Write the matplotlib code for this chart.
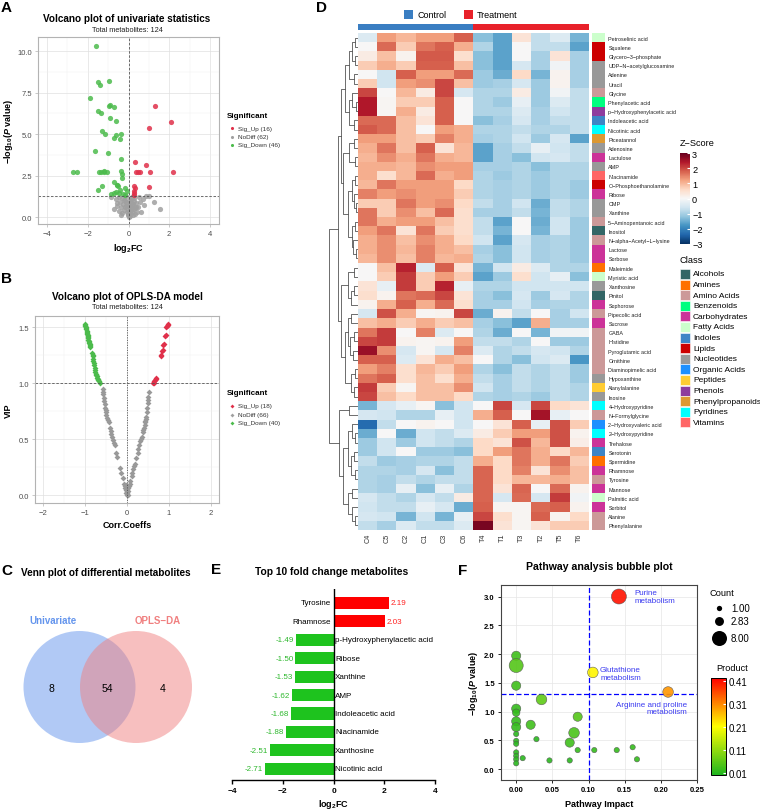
import numpy as np
import matplotlib
matplotlib.use("Agg")
import matplotlib.pyplot as plt
from matplotlib.colors import LinearSegmentedColormap, Normalize, to_rgb
from matplotlib.cm import ScalarMappable
from matplotlib.patches import Circle, Rectangle
from matplotlib.ticker import MultipleLocator

plt.rcParams['font.family'] = ['Liberation Sans', 'DejaVu Sans']
plt.rcParams['mathtext.fontset'] = 'custom'
plt.rcParams['mathtext.rm'] = 'Liberation Sans:bold'
plt.rcParams['mathtext.it'] = 'Liberation Sans:italic:bold'
plt.rcParams['mathtext.bf'] = 'Liberation Sans:bold'

# ---------------- data ----------------
# A: univariate volcano (log2FC, -log10 p)
up_fc = [1.32, 2.07, 1.03, 0.34, 0.86, 0.39, 0.47, 0.55, 1.08, 2.19, 0.26, 1.00, 0.27, 0.28, 0.29, 0.30]
up_p = [6.72, 5.72, 5.38, 3.30, 3.14, 2.72, 2.72, 2.72, 2.72, 2.72, 1.88, 1.85, 1.60, 1.45, 1.32, 1.75]
down_fc = [-1.60, -1.49, -0.95, -1.38, -1.88, -1.51, -1.35, -0.97, -0.89, -0.71, -0.90, -0.61, -1.29,
           -1.18, -0.61, -0.69, -0.39, -0.42, -1.67, -1.00, -0.38, -2.71, -2.51, -1.46, -1.35, -1.22,
           -1.05, -1.20, -0.36, -0.31, -0.33, -1.30, -0.70, -0.55, -0.50, -0.58, -1.49, -0.19, -0.07,
           -0.70, -0.45, -0.25, -0.62, -0.15, -0.85, -0.40]
down_p = [10.32, 8.16, 8.22, 7.94, 7.20, 6.42, 6.30, 6.70, 6.76, 6.64, 6.00, 5.78, 5.22, 5.02, 4.94,
          4.76, 5.02, 4.70, 4.00, 3.86, 3.52, 2.72, 2.72, 2.72, 2.72, 2.78, 2.72, 2.74, 2.78, 2.58,
          2.36, 1.88, 2.10, 1.95, 1.90, 1.92, 1.66, 1.75, 1.60, 1.45, 1.45, 1.40, 1.55, 1.35, 1.38, 1.62]
gray_fc = [-0.85, -0.62, -0.55, -0.48, -0.40, -0.35, -0.30, -0.25, -0.20, -0.15, -0.12, -0.08, -0.05,
           -0.02, 0.00, 0.03, 0.05, 0.08, 0.10, 0.12, 0.15, 0.18, 0.20, 0.25, 0.28, 0.32, 0.38, 0.45,
           0.52, 0.60, 0.70, 0.88, 1.00, 1.24, 1.57, -0.70, -0.45, -0.30, -0.18, -0.10, -0.04, 0.02,
           0.06, 0.12, 0.16, 0.22, 0.30, 0.40, 0.55, 0.75, -0.58, -0.22, -0.08, 0.00, 0.05, 0.09, 0.14,
           0.20, 0.35, -0.35, -0.12, 0.25]
gray_p = [1.20, 1.10, 0.85, 1.25, 0.95, 0.60, 1.15, 0.80, 0.45, 1.05, 0.70, 0.30, 0.55, 0.15, 0.05,
          0.40, 0.90, 0.25, 0.65, 1.18, 0.35, 0.75, 1.28, 0.50, 1.00, 0.20, 0.85, 0.60, 1.22, 0.35,
          1.10, 1.28, 1.30, 0.92, 0.48, 0.50, 0.40, 0.25, 0.60, 0.95, 0.20, 0.70, 0.10, 0.45, 1.25,
          0.80, 0.55, 0.30, 0.95, 0.75, 0.70, 1.05, 0.85, 0.35, 1.12, 0.55, 0.90, 0.12, 0.65, 0.15,
          1.28, 1.15]

# B: OPLS-DA volcano (corr coeff, VIP)
b_up_corr = [0.98, 0.97, 0.95, 0.94, 0.92, 0.91, 0.87, 0.86, 0.85, 0.84, 0.81, 0.80, 0.69, 0.68, 0.66, 0.65, 0.64, 0.63]
b_up_vip = [1.53, 1.52, 1.51, 1.50, 1.43, 1.42, 1.35, 1.34, 1.30, 1.29, 1.25, 1.24, 1.05, 1.04, 1.03, 1.02, 1.00, 1.00]
b_down_corr = [-1.00, -0.99, -0.99, -0.98, -0.97, -0.97, -0.96, -0.96, -0.95, -0.95, -0.94, -0.93, -0.93,
               -0.92, -0.92, -0.91, -0.90, -0.90, -0.89, -0.89, -0.88, -0.88,
               -0.83, -0.82, -0.81, -0.81, -0.80, -0.79, -0.78, -0.77, -0.76, -0.75, -0.74, -0.73,
               -0.72, -0.71, -0.70, -0.68, -0.66, -0.64]
b_down_vip = [1.53, 1.52, 1.51, 1.50, 1.49, 1.48, 1.47, 1.46, 1.45, 1.44, 1.43, 1.42, 1.41, 1.40, 1.39,
              1.38, 1.37, 1.36, 1.35, 1.34, 1.33, 1.32,
              1.27, 1.25, 1.24, 1.22, 1.20, 1.18, 1.16, 1.14, 1.12, 1.10, 1.08, 1.07, 1.06, 1.05,
              1.04, 1.03, 1.02, 1.00]
b_gray_corr = [-0.58, -0.57, -0.56, -0.55, -0.54, -0.53, -0.52, -0.51, -0.50, -0.49, -0.48, -0.46, -0.44,
               -0.41, -0.39, -0.37, -0.35, -0.33, -0.31, -0.29, -0.25, -0.23, -0.17, -0.14, -0.10, -0.07,
               -0.05, -0.04, -0.03, -0.02, -0.01, 0.00, -0.02,
               0.01, 0.02, 0.03, 0.05, 0.06, 0.08, 0.11, 0.13, 0.15, 0.17, 0.19, 0.22, 0.25, 0.27, 0.29,
               0.31, 0.33, 0.35, 0.37, 0.39, 0.40, 0.42, 0.43, 0.44, 0.45, 0.46, 0.47, 0.48, 0.49, 0.50,
               0.51, 0.52, 0.03]
b_gray_vip = [0.95, 0.92, 0.90, 0.87, 0.84, 0.81, 0.78, 0.76, 0.74, 0.72, 0.69, 0.67, 0.65, 0.60, 0.57,
              0.55, 0.52, 0.49, 0.47, 0.45, 0.38, 0.34, 0.24, 0.20, 0.15, 0.10, 0.08, 0.06, 0.09, 0.05,
              0.03, 0.00, 0.02,
              0.02, 0.04, 0.06, 0.08, 0.10, 0.13, 0.17, 0.20, 0.23, 0.26, 0.28, 0.33, 0.38, 0.41, 0.45,
              0.48, 0.50, 0.52, 0.56, 0.58, 0.60, 0.63, 0.65, 0.66, 0.68, 0.70, 0.74, 0.78, 0.82, 0.85,
              0.88, 0.92, 0.00]

# C: Venn counts (only univariate, both, only OPLS-DA)
venn_sets = ["Univariate", "OPLS−DA"]
venn_counts = [8, 54, 4]

# D: heatmap
heat_cols = ["C4", "C5", "C2", "C1", "C3", "C6", "T4", "T1", "T3", "T2", "T5", "T6"]
heat_groups = ["Control"] * 6 + ["Treatment"] * 6
heat_rows = ["Petroselinic acid", "Squalene", "Glycero−3−phosphate", "UDP−N−acetylglucosamine", "Adenine",
             "Uracil", "Glycine", "Phenylacetic acid", "p−Hydroxyphenylacetic acid", "Indoleacetic acid",
             "Nicotinic acid", "Piceatannol", "Adenosine", "Lactulose", "AMP", "Niacinamide",
             "O−Phosphoethanolamine", "Ribose", "CMP", "Xanthine", "5−Aminopentanoic acid", "Inositol",
             "N−alpha−Acetyl−L−lysine", "Lactose", "Sorbose", "Maleimide", "Myristic acid", "Xanthosine",
             "Pinitol", "Sophorose", "Pipecolic acid", "Sucrose", "GABA", "Histidine", "Pyroglutamic acid",
             "Ornithine", "Diaminopimelic acid", "Hypoxanthine", "Alanylalanine", "Inosine",
             "4−Hydroxypyridine", "N−Formylglycine", "2−Hydroxyvaleric acid", "2−Hydroxypyridine",
             "Trehalose", "Serotonin", "Spermidine", "Rhamnose", "Tyrosine", "Mannose", "Palmitic acid",
             "Sorbitol", "Alanine", "Phenylalanine"]
row_class = ["Fatty Acids", "Lipids", "Lipids", "Nucleotides", "Nucleotides", "Nucleotides", "Amino Acids",
             "Benzenoids", "Phenols", "Indoles", "Pyridines", "Phenylpropanoids", "Nucleotides",
             "Carbohydrates", "Nucleotides", "Vitamins", "Lipids", "Carbohydrates", "Nucleotides",
             "Nucleotides", "Amino Acids", "Alcohols", "Amino Acids", "Carbohydrates", "Carbohydrates",
             "Amines", "Fatty Acids", "Nucleotides", "Alcohols", "Carbohydrates", "Amino Acids",
             "Carbohydrates", "Amino Acids", "Amino Acids", "Amino Acids", "Amino Acids", "Amino Acids",
             "Nucleotides", "Peptides", "Nucleotides", "Pyridines", "Amino Acids", "Organic Acids",
             "Pyridines", "Carbohydrates", "Indoles", "Amines", "Carbohydrates", "Amino Acids",
             "Carbohydrates", "Fatty Acids", "Carbohydrates", "Amino Acids", "Amino Acids"]
class_names = ["Alcohols", "Amines", "Amino Acids", "Benzenoids", "Carbohydrates", "Fatty Acids", "Indoles",
               "Lipids", "Nucleotides", "Organic Acids", "Peptides", "Phenols", "Phenylpropanoids",
               "Pyridines", "Vitamins"]
class_colors = ["#336666", "#FF7000", "#CC9999", "#00FF80", "#CC3399", "#CCFFCC", "#3D85C6", "#CC0000",
                "#999999", "#1E90FF", "#FFCC33", "#8E3C9E", "#DD9933", "#00FFFF", "#FF6666"]
zscore = np.array([
    [-0.4, 1.25, 1.0, 1.25, 1.25, 1.8, -1.25, -1.6, 0.4, -0.75, -0.4, -1.4],
    [0.0, 1.7, 0.75, 1.6, 1.8, 1.1, -0.9, -1.6, 0.0, -0.75, -0.75, -1.6],
    [0.25, 0.9, 0.1, 1.85, 1.85, 0.5, -1.25, -1.6, 0.0, -1.0, 0.4, -1.0],
    [0.75, 1.1, 0.75, 1.8, 1.8, 0.9, -1.25, -1.6, -0.5, -1.0, -0.1, -1.0],
    [0.0, -0.6, 1.8, 1.25, 1.25, 1.7, -1.1, -1.5, 0.6, -1.4, 0.1, -1.0],
    [0.75, -0.6, 1.25, 1.4, 2.0, 0.9, -1.1, -1.0, -0.5, -1.1, 0.1, -1.0],
    [2.0, 0.0, 1.0, 0.25, 2.0, -0.5, -0.9, -0.9, 0.25, -1.1, -0.1, -0.75],
    [2.4, 0.05, 0.75, 0.75, 1.8, 0.0, -0.9, -1.1, -0.25, -1.1, -0.4, -0.75],
    [2.4, 0.05, 1.1, 0.25, 1.8, 0.0, -0.9, -0.9, -0.4, -1.0, -0.6, -0.75],
    [1.7, 1.7, 0.9, 0.4, 1.8, 0.0, -1.25, -1.0, -0.5, -1.0, -0.75, -0.75],
    [1.85, 1.7, 0.9, 0.0, 1.25, 1.1, -0.9, -0.9, -0.75, -0.9, -0.9, -0.75],
    [1.25, 1.25, 0.9, 0.75, 1.5, 1.1, -1.0, -0.9, -0.6, -1.1, -0.5, -1.6],
    [1.1, 1.6, 0.9, 1.8, 0.4, 1.0, -1.6, -1.0, -0.75, -0.25, -0.6, -0.75],
    [1.0, 1.4, 1.1, 1.6, 1.1, 1.0, -1.6, -1.0, -1.25, -0.6, -0.5, -0.75],
    [1.1, 1.1, 1.0, 1.4, 1.25, 1.25, -1.0, -1.0, -0.9, -1.25, -0.9, -0.9],
    [1.1, 0.5, 1.0, 1.7, 1.1, 1.25, -0.9, -1.1, -0.9, -1.1, -0.9, -0.9],
    [1.0, 1.6, 1.25, 1.25, 1.25, 0.6, -0.9, -1.0, -0.9, -1.1, -0.9, -1.1],
    [1.5, 1.25, 1.4, 1.25, 1.25, 0.75, -0.9, -1.0, -0.9, -1.1, -0.9, -1.1],
    [0.75, 0.75, 1.6, 1.25, 1.4, 0.6, -0.75, -1.0, -0.6, -1.5, -0.75, -0.9],
    [1.6, 0.75, 1.4, 0.9, 1.7, 0.5, -1.0, -1.0, -0.75, -1.4, -0.75, -0.9],
    [1.6, 1.1, 1.25, 1.25, 0.9, 0.5, -0.75, -1.6, 0.0, -1.5, -0.6, -1.1],
    [1.25, 1.6, 0.4, 1.6, 0.75, 0.5, -0.75, -1.4, 0.0, -1.4, -0.6, -1.1],
    [1.1, 1.4, 0.9, 1.4, 1.1, 0.6, -0.6, -1.6, -0.5, -1.0, -0.9, -1.1],
    [1.1, 1.4, 1.0, 1.5, 1.1, 0.9, -1.0, -1.25, -0.6, -1.0, -0.9, -1.1],
    [1.0, 1.4, 0.9, 1.5, 1.0, 1.1, -0.9, -1.25, -0.6, -1.0, -0.9, -1.1],
    [0.0, 0.9, 2.3, -0.4, 1.8, 0.4, -1.4, -0.6, 0.25, -0.4, -0.9, -0.9],
    [0.0, 0.75, 2.1, 0.75, 1.25, 0.75, -1.6, -1.1, 0.5, -0.6, -0.25, -1.25],
    [0.4, -0.25, 2.1, 0.75, 2.3, -0.25, -0.9, -0.9, -0.6, -0.6, -0.6, -0.6],
    [0.5, 0.1, 1.6, 1.7, 2.0, 0.4, -1.0, -1.25, -0.5, -1.1, -0.5, -0.9],
    [0.1, 1.1, 1.8, 1.1, 1.7, 0.5, -1.0, -1.0, -0.6, -1.0, -0.9, -0.9],
    [-0.5, 1.9, 1.1, 0.05, 0.1, 2.0, -1.5, 0.1, -0.75, 0.0, -1.0, -0.6],
    [0.9, 1.1, 0.75, 1.1, 0.75, 0.9, -1.0, -1.25, -1.6, 1.1, -1.0, -1.0],
    [1.6, 2.1, 0.0, 1.5, -0.4, 0.0, -0.9, -1.5, 0.0, -1.4, -0.1, -0.1],
    [2.0, 2.1, 0.1, 0.05, 0.1, 1.25, -0.75, -0.75, -0.9, 0.0, -1.1, -1.1],
    [2.6, 1.4, -0.5, 0.05, -0.5, 1.5, -0.4, -0.9, -0.75, -0.5, -0.6, -0.9],
    [1.8, 1.8, -0.4, 0.4, 1.1, 0.9, 0.0, -0.9, -1.25, -0.6, -0.4, -1.75],
    [1.25, 1.5, 0.5, 1.0, 0.75, 1.25, -0.9, -1.25, -0.75, -0.9, -0.75, -1.1],
    [1.6, 1.8, 0.5, 0.9, 0.5, 1.1, -0.75, -1.0, -0.75, -0.9, -0.75, -1.1],
    [2.1, 0.75, 0.05, 0.9, 0.9, 1.4, -0.6, -1.0, -0.75, -0.9, -0.75, -0.9],
    [2.0, 0.9, 0.6, 0.9, 0.9, 0.6, -0.9, -1.0, -0.9, -1.1, -0.75, -0.9],
    [-1.4, -0.5, -0.25, 0.05, -1.25, -0.6, 0.0, 2.0, -0.5, 2.0, 0.6, 0.4],
    [-0.5, -0.6, -0.9, -0.9, -0.25, -0.6, 1.1, 1.8, 0.0, 2.5, -0.25, 0.0],
    [-2.3, -0.75, 0.0, 0.1, 0.0, -0.6, 0.0, 0.4, 1.8, -0.25, 1.9, 0.75],
    [-1.5, 0.0, -1.5, -0.6, -0.75, -0.4, 0.25, 0.75, 1.25, 1.25, 1.9, 0.1],
    [-1.1, -0.6, -1.1, -0.6, -0.75, -0.9, 0.6, 0.4, 1.9, 1.0, 1.9, 0.2],
    [-1.1, -0.6, 0.0, -1.1, -1.1, -1.25, 0.6, 1.25, 1.6, 1.1, 0.6, 1.0],
    [-0.75, -1.1, -1.0, -0.9, -0.9, -0.75, 1.1, 0.6, 1.6, 1.1, 1.6, 0.75],
    [-0.9, -0.9, -1.0, -0.5, -1.25, -0.75, 1.75, 0.6, 1.5, 0.4, 1.4, 0.9],
    [-0.9, -1.0, -0.75, -0.9, -0.75, -0.75, 1.75, 0.6, 1.0, 1.0, 1.1, 0.9],
    [-0.9, -1.0, -0.25, -1.25, -0.25, -0.9, 1.75, 0.4, 1.75, 0.0, 1.7, 0.1],
    [-0.5, -0.75, -0.9, -0.5, -0.75, 0.25, 1.75, -0.5, 1.7, -0.5, 2.1, -0.1],
    [-0.6, -0.75, -0.75, -0.25, -0.5, -1.5, 1.8, 0.05, 0.05, 1.7, 1.8, 0.1],
    [-0.5, -0.6, -1.4, -0.6, -1.4, -0.25, 2.0, 0.5, 0.05, 1.8, 0.1, 0.6],
    [-0.75, -1.0, -0.4, -0.75, -0.75, -0.4, 2.85, 0.4, 0.05, 0.4, 0.75, 0.75],
])
# row dendrogram: [height, left, right], leaves are row indices
row_tree = [10,
            [7,
             [6,
              [4.5,
               [3, [2, [1, 0, 1], [1.2, 2, 3]], [1.5, 4, 5]],
               [3.2, [2, 6, [0.8, 7, 8]], [1.5, 9, 10]]],
              [5,
               [3, [1.5, 11, 12], [1.2, 13, 14]],
               [3.5, [2, [1, 15, 16], [1.5, 17, [0.8, 18, 19]]],
                [2.2, [1.2, 20, 21], [1.8, 22, [0.8, 23, 24]]]]]],
             [6,
              [3.5, [1.5, 25, 26], [2.5, [1.5, 27, 28], 29]],
              [4.5,
               [3.5, [2.5, 30, 31], [2.8, [1.5, 32, 33], [1.8, 34, 35]]],
               [2.5, [1.2, 36, 37], [1.5, 38, 39]]]]],
            [6.5,
             [3, 40, 41],
             [5,
              [3.5, [2, 42, [1.2, 43, 44]], [2.5, [1.5, 45, 46], [1.2, 47, 48]]],
              [3.5, [2, 49, 50], [2.2, 51, [1.2, 52, 53]]]]]]

# E: top 10 fold change
top_names = ["Tyrosine", "Rhamnose", "p-Hydroxyphenylacetic acid", "Ribose", "Xanthine", "AMP",
             "Indoleacetic acid", "Niacinamide", "Xanthosine", "Nicotinic acid"]
top_fc = [2.19, 2.03, -1.49, -1.50, -1.53, -1.62, -1.68, -1.88, -2.51, -2.71]

# F: pathway bubble plot
pw_impact = [0.142, 0.106, 0.210, 0.0, 0.0, 0.0, 0.035, 0.0, 0.0, 0.0, 0.085, 0.020, 0.0, 0.080, 0.0,
             0.028, 0.074, 0.0, 0.0, 0.085, 0.108, 0.139, 0.161, 0.167, 0.046, 0.074, 0.009, 0.0, 0.0,
             0.0, 0.0]
pw_logp = [3.00, 1.68, 1.34, 1.97, 1.80, 1.45, 1.21, 1.05, 0.98, 0.83, 0.91, 0.77, 0.73, 0.63, 0.61,
           0.52, 0.46, 0.49, 0.44, 0.33, 0.33, 0.33, 0.38, 0.17, 0.15, 0.15, 0.19, 0.29, 0.23, 0.17, 0.10]
pw_count = [8, 4, 4, 3, 7, 3, 4, 3, 2, 3, 3, 3, 3, 4, 1, 1, 3, 1, 1, 1, 1, 1, 1, 1, 1, 1, 1, 1, 1, 1, 1]
pw_product = [0.41, 0.22, 0.30, 0.03, 0.05, 0.03, 0.06, 0.02, 0.02, 0.02, 0.05, 0.03, 0.02, 0.04, 0.01,
              0.01, 0.03, 0.01, 0.01, 0.02, 0.02, 0.02, 0.02, 0.02, 0.01, 0.01, 0.01, 0.01, 0.01, 0.01,
              0.01]
pw_labels = {0: "Purine\nmetabolism", 1: "Glutathione\nmetabolism", 2: "Arginine and proline\nmetabolism"}
count_legend = [1.00, 2.83, 8.00]

# ---------------- layout ----------------
W, H = 760, 812
fig = plt.figure(figsize=(W / 100, H / 100), dpi=100)


def box(l, t, r, b):
    return [l / W, 1 - b / H, (r - l) / W, (b - t) / H]


RED, GRAY, GREEN = "#E0304A", "#A0A0A0", "#4CBB4C"


def light_theme(ax):
    for s in ax.spines.values():
        s.set_color("#B3B3B3")
        s.set_linewidth(0.8)
    ax.tick_params(which="major", length=2.5, width=0.5, color="#B3B3B3", labelcolor="#4D4D4D",
                   labelsize=5.5, pad=1.5)
    ax.tick_params(which="minor", length=0)
    ax.grid(which="major", color="#E0E0E0", lw=0.5)
    ax.grid(which="minor", color="#EEEEEE", lw=0.3)
    ax.set_axisbelow(True)


# A
axA = fig.add_axes(box(38, 38, 219, 225))
axA.scatter(gray_fc, gray_p, s=14, c=GRAY, alpha=0.85, lw=0)
axA.scatter(up_fc, up_p, s=14, c=RED, alpha=0.85, lw=0)
axA.scatter(down_fc, down_p, s=14, c=GREEN, alpha=0.85, lw=0)
axA.axhline(1.3, color="#555555", lw=0.6, dashes=(3, 2))
axA.axvline(0, color="#555555", lw=0.6, dashes=(3, 2))
axA.set_xlim(-4.45, 4.45)
axA.set_ylim(-0.4, 10.85)
axA.set_xticks([-4, -2, 0, 2, 4])
axA.set_yticks([0, 2.5, 5, 7.5, 10])
axA.yaxis.set_major_formatter("{x:.1f}")
axA.xaxis.set_minor_locator(MultipleLocator(1))
axA.yaxis.set_minor_locator(MultipleLocator(1.25))
light_theme(axA)
axA.set_xlabel(r"$\mathrm{log_{2}FC}$", fontsize=6.5, labelpad=3)
axA.set_ylabel(r"$\mathrm{-log_{10}(}P\mathrm{\ value)}$", fontsize=6.5, labelpad=2)

# B
axB = fig.add_axes(box(35, 317, 219, 504))
axB.scatter(b_gray_corr, b_gray_vip, s=9, marker="D", c="#999999", lw=0)
axB.scatter(b_up_corr, b_up_vip, s=9, marker="D", c=RED, lw=0)
axB.scatter(b_down_corr, b_down_vip, s=9, marker="D", c=GREEN, lw=0)
axB.axhline(1.0, color="#555555", lw=0.6, dashes=(3, 2))
axB.axvline(0, color="#555555", lw=0.6, dashes=(1.5, 1.5))
axB.set_xlim(-2.19, 2.19)
axB.set_ylim(-0.07, 1.6)
axB.set_xticks([-2, -1, 0, 1, 2])
axB.set_yticks([0, 0.5, 1.0, 1.5])
axB.yaxis.set_major_formatter("{x:.1f}")
axB.xaxis.set_minor_locator(MultipleLocator(0.5))
axB.yaxis.set_minor_locator(MultipleLocator(0.25))
light_theme(axB)
axB.set_xlabel("Corr.Coeffs", fontsize=6.5, fontweight="bold", labelpad=3)
axB.set_ylabel("VIP", fontsize=6.5, fontweight="bold", labelpad=4)

# D heatmap
axH = fig.add_axes(box(358, 34, 589, 531))
axH.imshow(zscore, aspect="auto", cmap="RdBu_r", vmin=-3, vmax=3, interpolation="nearest")
axH.set_xticks(range(len(heat_cols)))
axH.set_xticklabels(heat_cols, rotation=90, fontsize=5.2, color="#333333")
axH.set_yticks([])
axH.tick_params(axis="x", length=0, pad=2)
for s in axH.spines.values():
    s.set_visible(False)

group_cols = {"Control": "#3A7EC2", "Treatment": "#E8212A"}
axG = fig.add_axes(box(358, 25, 589, 31))
axG.imshow([[to_rgb(group_cols[g]) for g in heat_groups]], aspect="auto")
axG.axis("off")

axC = fig.add_axes(box(592, 34, 605, 531))
axC.imshow([[to_rgb(class_colors[class_names.index(c)])] for c in row_class], aspect="auto",
           interpolation="nearest")
axC.set_xticks([])
axC.yaxis.tick_right()
axC.set_yticks(range(len(heat_rows)))
axC.set_yticklabels(heat_rows, fontsize=3.9, color="#222222")
axC.tick_params(axis="y", length=0, pad=2.5)
for s in axC.spines.values():
    s.set_visible(False)

axDen = fig.add_axes(box(328, 34, 358, 531))


def draw_node(ax, node):
    if isinstance(node, int):
        return node, 0.0
    h, left, right = node
    y1, h1 = draw_node(ax, left)
    y2, h2 = draw_node(ax, right)
    ax.plot([h1, h, h, h2], [y1, y1, y2, y2], color="#333333", lw=0.5, solid_capstyle="butt")
    return (y1 + y2) / 2, h


draw_node(axDen, row_tree)
axDen.set_xlim(10.3, 0)
axDen.set_ylim(len(heat_rows) - 0.5, -0.5)
axDen.axis("off")

# Z-score colorbar
axZ = fig.add_axes(box(680, 154, 690, 245))
cbz = fig.colorbar(ScalarMappable(norm=Normalize(-3, 3), cmap="RdBu_r"), cax=axZ, ticks=range(-3, 4))
cbz.outline.set_visible(False)
axZ.tick_params(labelsize=6.6, length=2, color="white", direction="in", pad=1.5)

# E
axE = fig.add_axes(box(232, 590, 435, 781))
ypos = np.arange(len(top_names))[::-1]
bar_cols = ["#FF0000" if v > 0 else "#1EC31E" for v in top_fc]
axE.barh(ypos, top_fc, height=0.65, color=bar_cols)
for y, name, v in zip(ypos, top_names, top_fc):
    if v > 0:
        axE.text(-0.1, y, name, ha="right", va="center", fontsize=5.8)
        axE.text(v + 0.06, y, f"{v:.2f}", ha="left", va="center", fontsize=5.8, color="#FF2020")
    else:
        axE.text(0.06, y, name, ha="left", va="center", fontsize=5.8)
        axE.text(v - 0.08, y, f"{v:.2f}", ha="right", va="center", fontsize=5.8, color="#2DB82D")
axE.axvline(0, color="black", lw=1)
axE.set_xlim(-4, 4)
axE.set_ylim(-0.6, 9.74)
axE.set_xticks([-4, -2, 0, 2, 4])
axE.set_yticks([])
for s in ["left", "top", "right"]:
    axE.spines[s].set_visible(False)
axE.spines["bottom"].set_linewidth(1)
axE.tick_params(axis="x", length=3, width=1, labelsize=6, pad=2)
for lab in axE.get_xticklabels():
    lab.set_fontweight("bold")
axE.set_xlabel(r"$\mathrm{log_{2}FC}$", fontsize=6.5, labelpad=2)

# F
prod_cmap = LinearSegmentedColormap.from_list("prod", ["#1FB51F", "#FFFF00", "#FF0000"])
prod_norm = Normalize(0.0, 0.425)
axF = fig.add_axes(box(501, 586, 697, 781))
axF.scatter(pw_impact, pw_logp, s=np.array(pw_count) * 14.6, c=pw_product, cmap=prod_cmap, norm=prod_norm,
            edgecolors="#555555", linewidths=0.4, alpha=0.9, zorder=3)
axF.axvline(0.1, color="#0000FF", lw=0.9, dashes=(4, 2), zorder=2)
axF.axhline(1.3, color="#0000FF", lw=0.9, dashes=(4, 2), zorder=2)
axF.text(pw_impact[0] + 0.022, pw_logp[0], pw_labels[0], ha="left", va="center", fontsize=5.8,
         color="#3B3BF0", linespacing=1.1)
axF.text(pw_impact[1] + 0.010, pw_logp[1] - 0.02, pw_labels[1], ha="left", va="center", fontsize=5.8,
         color="#3B3BF0", linespacing=1.1)
axF.text(0.237, 1.06, pw_labels[2], ha="right", va="center", fontsize=5.8, color="#3B3BF0",
         multialignment="right", linespacing=1.1)
axF.set_xlim(-0.021, 0.25)
axF.set_ylim(-0.19, 3.2)
axF.set_xticks([0, 0.05, 0.10, 0.15, 0.20, 0.25])
axF.set_yticks([0, 0.5, 1.0, 1.5, 2.0, 2.5, 3.0])
axF.xaxis.set_major_formatter("{x:.2f}")
axF.yaxis.set_major_formatter("{x:.1f}")
for s in axF.spines.values():
    s.set_color("#444444")
    s.set_linewidth(0.8)
axF.grid(color="#E6E6E6", lw=0.5)
axF.set_axisbelow(True)
axF.tick_params(length=2.5, width=0.6, labelsize=5.5, pad=2)
for lab in axF.get_xticklabels() + axF.get_yticklabels():
    lab.set_fontweight("bold")
axF.set_xlabel("Pathway Impact", fontsize=6.5, fontweight="bold", labelpad=4)
axF.set_ylabel(r"$\mathrm{-log_{10}(}P\mathrm{\ value)}$", fontsize=6.5, labelpad=3)

axP = fig.add_axes(box(711, 679, 726, 776))
cbp = fig.colorbar(ScalarMappable(norm=prod_norm, cmap=prod_cmap), cax=axP,
                   ticks=[0.01, 0.11, 0.21, 0.31, 0.41])
cbp.outline.set_linewidth(0.7)
axP.tick_params(labelsize=7, length=2, color="white", direction="in", pad=2)

# ---------------- overlay: titles, legends, Venn ----------------
ov = fig.add_axes([0, 0, 1, 1])
ov.set_xlim(0, W)
ov.set_ylim(H, 0)
ov.axis("off")
ov.patch.set_alpha(0)

for x, y, s in [(1, 8, "A"), (1, 279, "B"), (1, 571, "C"), (316, 8, "D"), (211, 570, "E"), (458, 571, "F")]:
    ov.text(x, y, s, fontsize=11, fontweight="bold", ha="left", va="center")

ov.text(127, 19, "Volcano plot of univariate statistics", fontsize=7.2, fontweight="bold", ha="center", va="center")
ov.text(127, 30, "Total metabolites: 124", fontsize=5.3, ha="center", va="center", color="#222222")
ov.text(127, 297, "Volcano plot of OPLS-DA model", fontsize=7.2, fontweight="bold", ha="center", va="center")
ov.text(127, 308, "Total metabolites: 124", fontsize=5.3, ha="center", va="center", color="#222222")
ov.text(21, 573, "Venn plot of differential metabolites", fontsize=7.2, fontweight="bold", ha="left", va="center")
ov.text(332, 572, "Top 10 fold change metabolites", fontsize=7.4, fontweight="bold", ha="center", va="center")
ov.text(599, 567, "Pathway analysis bubble plot", fontsize=7.6, fontweight="bold", ha="center", va="center")

# significance legends
for (ty, marker, labels) in [(116, "o", [f"Sig_Up ({len(up_fc)})", f"NoDiff ({len(gray_fc)})",
                                          f"Sig_Down ({len(down_fc)})"]),
                             (394, "D", [f"Sig_Up ({len(b_up_corr)})", f"NoDiff ({len(b_gray_corr)})",
                                          f"Sig_Down ({len(b_down_corr)})"])]:
    ov.text(227, ty, "Significant", fontsize=5.8, fontweight="bold", ha="left", va="center")
    for i, (lab, col) in enumerate(zip(labels, [RED, GRAY, GREEN])):
        yy = ty + 13 + i * 8.5
        ov.scatter([232], [yy], s=5 if marker == "o" else 4, marker=marker, c=col, lw=0)
        ov.text(238, yy, lab, fontsize=4.6, ha="left", va="center", color="#333333")

# Venn
ov.add_patch(Circle((79.5, 688), 56, fc="#6495ED", alpha=0.5, ec="none"))
ov.add_patch(Circle((136, 688), 56, fc="#F08080", alpha=0.5, ec="none"))
ov.text(53, 621, venn_sets[0], fontsize=7, fontweight="bold", color="#6495ED", ha="center", va="center")
ov.text(158, 621, venn_sets[1], fontsize=7, fontweight="bold", color="#F08080", ha="center", va="center")
for x, n in zip([51, 107, 163], venn_counts):
    ov.text(x, 689, str(n), fontsize=7.5, ha="center", va="center")

# heatmap group legend
for x, g in [(404, "Control"), (464, "Treatment")]:
    ov.add_patch(Rectangle((x, 11), 9, 9, fc=group_cols[g], ec="none"))
    ov.text(x + 13, 15.5, g, fontsize=6.5, ha="left", va="center")

# Z-score / Class legends
ov.text(680, 144, "Z−Score", fontsize=6.6, ha="left", va="center")
ov.text(680, 261, "Class", fontsize=6.7, ha="left", va="center")
for i, (name, col) in enumerate(zip(class_names, class_colors)):
    yy = 275 + i * 10.6
    ov.add_patch(Rectangle((680, yy - 5), 10, 10, fc=col, ec="white", lw=0.4))
    ov.text(693, yy, name, fontsize=6, ha="left", va="center")

# count legend
ov.text(710, 594, "Count", fontsize=6.7, ha="left", va="center")
for yy, c in zip([609, 622, 639], count_legend):
    ov.scatter([719], [yy], s=c * 14.6, c="black", lw=0)
    ov.text(731, yy, f"{c:.2f}", fontsize=7, ha="left", va="center")
ov.text(716, 669, "Product", fontsize=6.6, ha="left", va="center")

fig.savefig("out.png", dpi=100)
